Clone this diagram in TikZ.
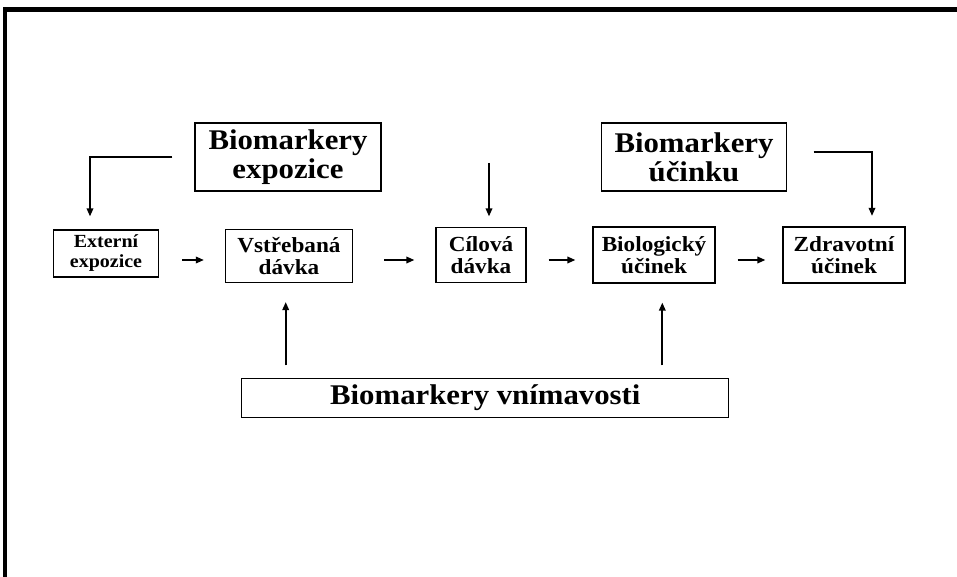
\documentclass[tikz,border=0pt]{standalone}
\usepackage{fontspec}
\setmainfont[FakeStretch=1.08]{Liberation Serif}
\usetikzlibrary{arrows.meta,calc}
\begin{document}
\begin{tikzpicture}[x=1pt,y=-1pt,
  box/.style={draw, line width=1.2pt, inner sep=0pt, align=center},
  bigtxt/.style={font=\bfseries\fontsize{28.5}{29}\selectfont},
  midtxt/.style={font=\bfseries\fontsize{21.5}{22}\selectfont},
  smalltxt/.style={font=\bfseries\fontsize{18.5}{20}\selectfont},
  arr/.style={line width=1.7pt, -{Triangle[length=8pt,width=6.5pt]}}]
\useasboundingbox (0,0) rectangle (957,577);
% frame
\fill (3.3,7) rectangle (957,12);
\fill (3.3,7) rectangle (7.3,577);
% nodes
\node[box,bigtxt,minimum width=186pt,minimum height=68pt] (bexp) at (288,157) {Biomarkery\\expozice};
\node[box,bigtxt,minimum width=185pt,minimum height=68pt] (beff) at (694,157) {Biomarkery\\účinku};
\node[box,smalltxt,minimum width=105pt,minimum height=47pt] (ext) at (106,253.5) {Externí\\expozice};
\node[box,midtxt,minimum width=127pt,minimum height=53pt] (vst) at (289,256) {Vstřebaná\\dávka};
\node[box,midtxt,minimum width=90pt,minimum height=55pt] (cil) at (481,255) {Cílová\\dávka};
\node[box,midtxt,minimum width=122pt,minimum height=56pt] (bio) at (654,255) {Biologický\\účinek};
\node[box,midtxt,minimum width=122pt,minimum height=56pt] (zdr) at (844,255) {Zdravotní\\účinek};
\node[box,bigtxt,minimum width=487pt,minimum height=39pt] (bvn) at (485.3,397.8) {Biomarkery vnímavosti};
% horizontal arrows
\coordinate (h) at (0,260);
\draw[arr, shorten <=23pt, shorten >=21pt] (ext.east |- h) -- (vst.west |- h);
\draw[arr, shorten <=31pt, shorten >=21pt] (vst.east |- h) -- (cil.west |- h);
\draw[arr, shorten <=22pt, shorten >=17pt] (cil.east |- h) -- (bio.west |- h);
\draw[arr, shorten <=22pt, shorten >=17pt] (bio.east |- h) -- (zdr.west |- h);
% elbow arrows
\draw[arr, shorten >=13pt] ([xshift=-22pt]bexp.west) -| ([xshift=-16pt]ext.north);
\draw[arr, shorten >=10.5pt] ([xshift=26.6pt,yshift=5pt]beff.east) -| ([xshift=28pt]zdr.north);
% free arrow to Cilova
\coordinate (c0) at (489,163);
\draw[arr, shorten >=10.5pt] (c0) -- (c0 |- cil.north);
% up arrows
\coordinate (u1) at ([xshift=-3.3pt]vst.south);
\coordinate (u2) at ([xshift=8.3pt]bio.south);
\draw[arr, shorten <=12.3pt, shorten >=19pt] (bvn.north -| u1) -- (u1);
\draw[arr, shorten <=12.3pt, shorten >=19pt] (bvn.north -| u2) -- (u2);
\end{tikzpicture}
\end{document}
